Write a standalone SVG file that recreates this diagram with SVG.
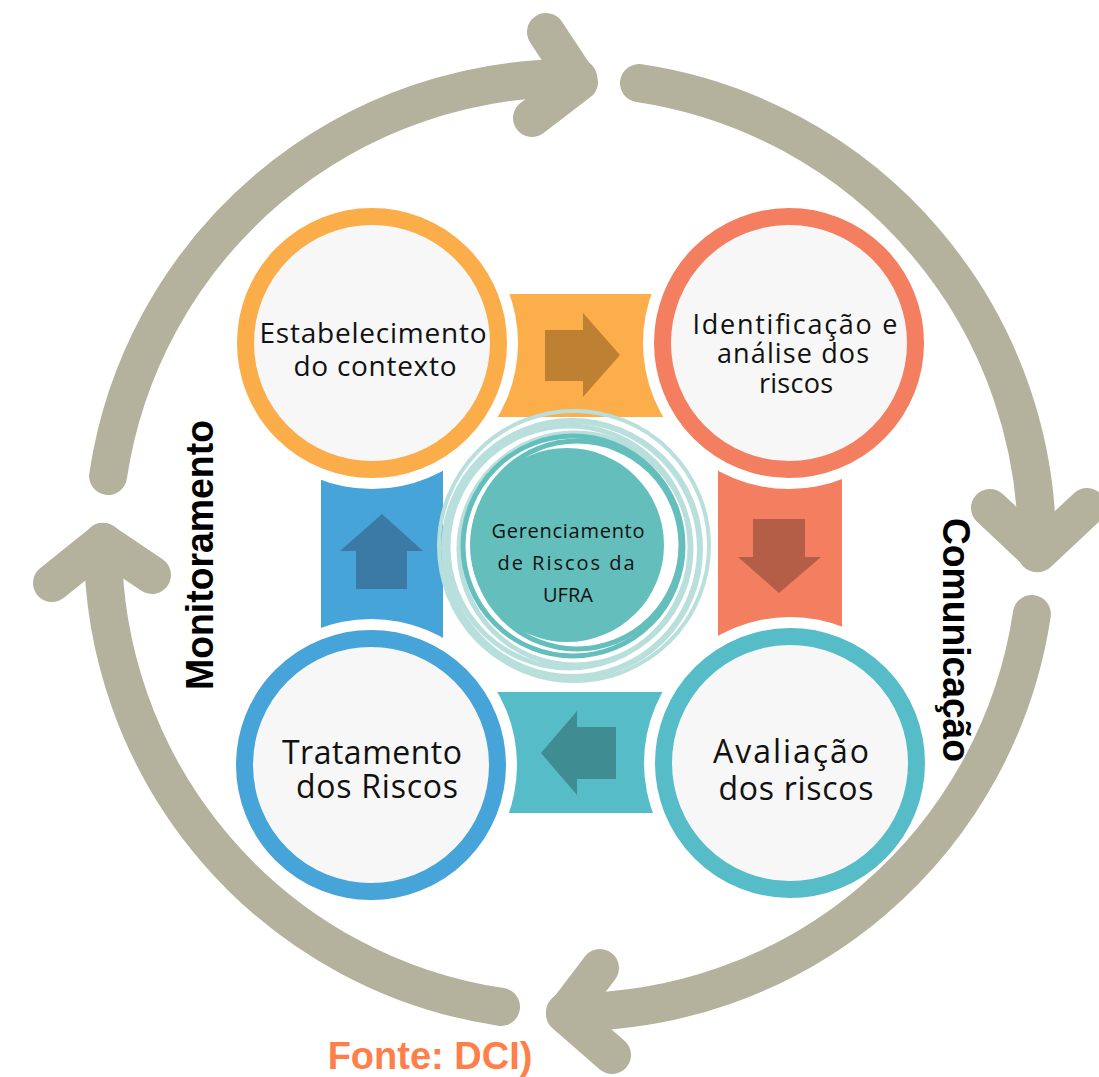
<svg xmlns="http://www.w3.org/2000/svg" width="1099" height="1077" viewBox="0 0 1099 1077">
<style>
.arc{fill:none;stroke:#b4b19c;stroke-width:38;stroke-linecap:round;stroke-linejoin:round}
.halo{fill:#fff}
.ring{fill:#f7f7f7;stroke-width:17}
.lbl{font-family:"Open Sans",Lato,"Liberation Sans",sans-serif;fill:#111;text-anchor:middle}
.side{font-family:"Liberation Sans",Arial,sans-serif;font-weight:bold;font-size:38px;fill:#000;text-anchor:middle}
.lr{fill:none;stroke:#b8dfdc}
.dr{fill:none;stroke:#64bfbc}
</style>
<rect width="1099" height="1077" fill="#fff"/>
<g id="connectors">
  <g id="link-contexto-identificacao">
    <rect x="480" y="294" width="200" height="123" fill="#fcae4a"/>
  </g>
  <g id="link-identificacao-avaliacao">
    <rect x="718" y="455" width="124" height="195" fill="#f37f60"/>
  </g>
  <g id="link-tratamento-contexto">
    <rect x="321" y="465" width="122" height="180" fill="#47a4d9"/>
  </g>
  <g id="link-avaliacao-tratamento">
    <rect x="480" y="692" width="200" height="121" fill="#56bcc8"/>
  </g>
</g>
<g id="node-contexto">
  <circle class="halo" cx="372" cy="343" r="146"/>
  <circle class="ring" cx="372" cy="343" r="126.5" stroke="#fbad4a"/>
  <text class="lbl" font-size="28" lengthAdjust="spacingAndGlyphs"><tspan x="373" y="343" textLength="227">Estabelecimento</tspan><tspan x="375" y="376" textLength="163">do contexto</tspan></text>
</g>
<g id="node-identificacao">
  <circle class="halo" cx="789" cy="343" r="146"/>
  <circle class="ring" cx="789" cy="343" r="126.5" stroke="#f37e60"/>
  <text class="lbl" font-size="27"><tspan x="795" y="334" textLength="205">Identificação e</tspan><tspan x="793" y="363" textLength="152">análise dos</tspan><tspan x="796" y="393" textLength="74">riscos</tspan></text>
</g>
<g id="node-tratamento">
  <circle class="halo" cx="371" cy="765" r="146"/>
  <circle class="ring" cx="371" cy="765" r="126.5" stroke="#47a4d9"/>
  <text class="lbl" font-size="32"><tspan x="372" y="764" textLength="180">Tratamento</tspan><tspan x="377" y="798" textLength="162">dos Riscos</tspan></text>
</g>
<g id="node-avaliacao">
  <circle class="halo" cx="790" cy="763" r="146"/>
  <circle class="ring" cx="790" cy="763" r="126.5" stroke="#56bcc8"/>
  <text class="lbl" font-size="32"><tspan x="791" y="763" textLength="156">Avaliação</tspan><tspan x="796" y="800" textLength="155">dos riscos</tspan></text>
</g>
<g id="link-arrows">
  <polygon points="545,330 583,330 583,313 620,355 583,397 583,381 545,381" fill="#be8033"/>
  <polygon points="753,519 805,519 805,557 821,557 779,593 738,557 753,557" fill="#b55e47"/>
  <polygon points="382,514 423,551 407,551 407,589 356,589 356,551 340,551" fill="#3a7aa4"/>
  <polygon points="541,753 577,711 577,727 616,727 616,779 577,779 577,795" fill="#408c93"/>
</g>
<g id="node-center">
  <circle cx="572" cy="547" r="130" fill="#fff"/>
  <circle class="lr" cx="574" cy="546" r="135" stroke-width="4"/>
  <circle class="lr" cx="572" cy="549" r="128" stroke-width="6"/>
  <circle class="lr" cx="569" cy="547" r="121" stroke-width="5"/>
  <circle class="lr" cx="575" cy="549" r="116" stroke-width="5"/>
  <circle class="dr" cx="573" cy="546" r="110" stroke-width="5"/>
  <circle class="dr" cx="577" cy="545" r="104" stroke-width="5"/>
  <circle cx="567" cy="545" r="97" fill="#64bfbc"/>
  <text class="lbl" font-size="20"><tspan x="568" y="538" textLength="153">Gerenciamento</tspan><tspan x="566" y="570" textLength="137">de Riscos da</tspan><tspan x="568" y="602" textLength="50">UFRA</tspan></text>
</g>
<g id="cycle-connectors">
  <path class="arc" d="M108.1,476 A467,467 0 0 1 578.2,78.1"/>
  <path class="arc" d="M546,32 L579,82 L532,118"/>
  <path class="arc" d="M639,83.1 A467,467 0 0 1 1036.9,553.2"/>
  <path class="arc" d="M990,508 L1038,553 L1087,507"/>
  <path class="arc" d="M1031.9,614 A467,467 0 0 1 565,1012"/>
  <path class="arc" d="M600,968 L565,1014 L612,1055"/>
  <path class="arc" d="M501,1006.9 A467,467 0 0 1 103,541.7"/>
  <path class="arc" d="M52,583 L103,542 L152,575"/>
</g>
<text class="side" transform="translate(213,555) rotate(-90)" textLength="270" lengthAdjust="spacingAndGlyphs">Monitoramento</text>
<text class="side" transform="translate(943,640) rotate(90)" textLength="244" lengthAdjust="spacingAndGlyphs">Comunicação</text>
<text x="430" y="1069" font-family="'Liberation Sans',Arial,sans-serif" font-weight="bold" font-size="38" fill="#ff7f4a" text-anchor="middle">Fonte: DCI)</text>
</svg>
